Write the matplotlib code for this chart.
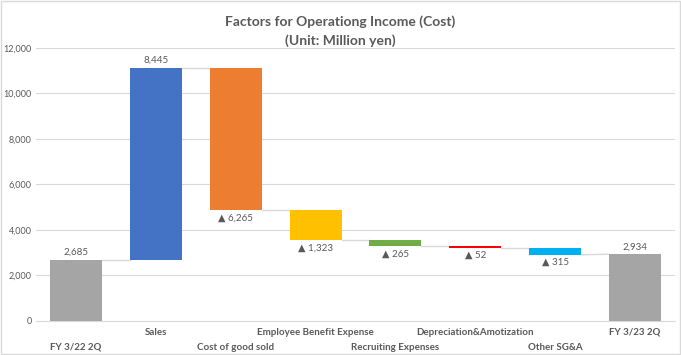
import matplotlib.pyplot as plt
from matplotlib.patches import Rectangle

# valores do grafico
categories = ['FY 3/22 2Q', 'Sales', 'Cost of good sold', 'Employee Benefit Expense',
              'Recruiting Expenses', 'Depreciation&Amotization', 'Other SG&A', 'FY 3/23 2Q']
start_value = 2685
changes = [8445, -6265, -1323, -265, -52, -315]
end_value = 2934
colors = ['#A5A5A5', '#4472C4', '#ED7D31', '#FFC000', '#70AD47', '#FF0000', '#00B0F0', '#A5A5A5']

plt.rcParams['font.family'] = ['Lato', 'DejaVu Sans']

fig = plt.figure(figsize=(6.81, 3.55), dpi=100)
ax = fig.add_axes([0.053, 0.0958, 0.938, 0.769])

# monta as barras (base, topo)
bottoms = [0]
tops = [start_value]
level = start_value
for c in changes:
    new = level + c
    bottoms.append(min(level, new))
    tops.append(max(level, new))
    level = new
bottoms.append(0)
tops.append(end_value)

# nivel inicial/final de cada barra para os conectores
starts = [start_value] + [start_value + sum(changes[:i]) for i in range(len(changes))] + [end_value]
ends = [start_value] + [start_value + sum(changes[:i + 1]) for i in range(len(changes))] + [end_value]

w = 0.65
x = list(range(len(categories)))
ax.bar(x, [t - b for t, b in zip(tops, bottoms)], bottom=bottoms, width=w, color=colors, zorder=3)

# linhas de conexao
for i in range(len(x) - 1):
    ax.plot([x[i] + w / 2, x[i + 1] - w / 2], [ends[i], starts[i + 1]],
            color='#D9D9D9', lw=1, zorder=2)

# rotulos
label_color = '#595959'
ax.text(x[0], tops[0] + 120, f'{start_value:,}', ha='center', va='bottom', fontsize=7, color=label_color)
for i, c in enumerate(changes, start=1):
    if c > 0:
        ax.text(x[i], tops[i] + 120, f'{c:,}', ha='center', va='bottom', fontsize=7, color=label_color)
    else:
        ax.text(x[i], bottoms[i] - 150, f'▲ {abs(c):,}', ha='center', va='top', fontsize=7, color=label_color)
ax.text(x[-1], tops[-1] + 120, f'{end_value:,}', ha='center', va='bottom', fontsize=7, color=label_color)

# eixos
ax.set_xlim(-0.5, len(x) - 0.5)
ax.set_ylim(0, 12000)
ax.set_yticks(range(0, 12001, 2000))
ax.set_yticklabels([f'{v:,}' for v in range(0, 12001, 2000)], fontsize=6.5, color=label_color)
ax.grid(axis='y', color='#D9D9D9', lw=0.8, zorder=0)
ax.tick_params(axis='y', length=0, pad=3)
ax.set_xticks(x)
ax.set_xticklabels([])
ax.tick_params(axis='x', length=0)
for s in ['left', 'right', 'top']:
    ax.spines[s].set_visible(False)
ax.spines['bottom'].set_color('#D9D9D9')

# rotulos das categorias em duas linhas alternadas
for i, name in enumerate(categories):
    yoff = -19 if i % 2 == 0 else -8
    ax.annotate(name, (x[i], 0), xytext=(0, yoff), textcoords='offset points',
                ha='center', va='center', fontsize=7, fontweight='bold', color=label_color,
                annotation_clip=False)

# titulo
fig.text(0.5, 0.913, 'Factors for Operationg Income (Cost)\n(Unit: Million yen)', ha='center', va='center',
         fontsize=10, fontweight='bold', color=label_color, linespacing=1.6)

# borda do grafico
fig.patches.append(Rectangle((0.002, 0.003), 0.996, 0.994, transform=fig.transFigure,
                             fill=False, edgecolor='#D9D9D9', lw=1))

fig.savefig('out.png', dpi=100)
